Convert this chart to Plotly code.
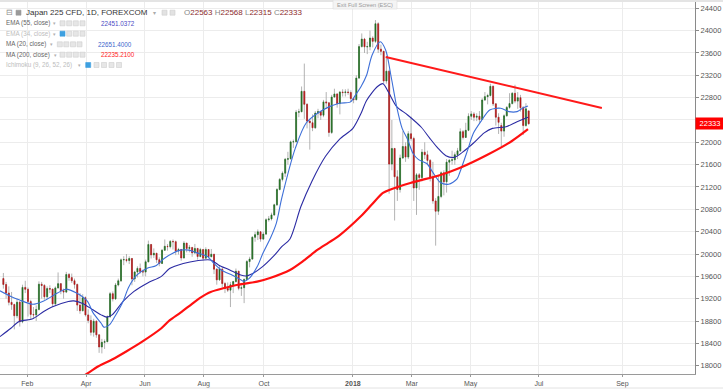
import pandas as pd
import plotly.graph_objects as go

# ---------------- data ----------------
open_ = [19560,19454,19301,19134,19095,18894,19137,18787,19402,19368,19148,18918,18910,19007,19459,19437,19234,19381,19371,19107,
         19393,19469,19344,19318,19633,19577,19521,19455,19085,18985,19217,18909,18810,18597,18797,18552,18335,18418,18430,18875,
         19289,19196,19445,19520,19895,19900,19883,19919,19553,19678,19742,19686,19677,19860,20170,19984,20013,19898,19831,20067,
         20138,20132,20225,20220,20055,20081,19929,20195,20099,20118,20020,20099,19955,20079,19925,20080,19952,19996,19729,19537,
         19729,19470,19383,19353,19449,19506,19691,19385,19396,19545,19865,19909,20299,20347,20397,20267,20356,20614,20628,20700,
         20881,21155,21336,21448,21696,21707,22008,22011,22539,22548,22913,22681,22380,22351,22261,22523,22550,22486,22724,22707,
         22177,22811,22866,22694,22901,22891,22902,22892,22783,22764,23150,23714,23849,23710,23714,23868,23808,24124,23669,23629,
         23098,23274,21610,21890,21383,21154,21720,21925,21736,22153,22068,21182,21418,21368,21824,21777,21676,21380,20950,20766,
         21031,21454,21292,21645,21678,21687,21778,21847,22191,22088,22215,22467,22508,22450,22467,22408,22758,22818,22838,23002,
         22689,22450,22300,22201,22475,22625,22694,22878,22738,22800,22620,22300,22563]
high = [19660,19500,19420,19320,19110,19200,19160,19450,19520,19400,19180,19050,19080,19510,19500,19460,19420,19440,19380,19420,
        19670,19480,19380,19680,19660,19650,19560,19470,19300,19280,19240,19010,18900,18840,18810,18560,18480,18470,18900,19320,
        19330,19480,19560,19920,19960,20000,19960,19930,19700,19780,19830,19720,19900,20240,20180,20100,20020,19940,20090,20260,
        20180,20250,20260,20240,20110,20090,20230,20200,20160,20120,20180,20110,20110,20090,20120,20090,20090,20000,19740,19800,
        19760,19500,19490,19500,19520,19740,19700,19440,19560,19890,19950,20320,20400,20440,20410,20400,20640,20680,20740,20900,
        21180,21360,21480,21720,21830,22030,22050,22580,22600,23000,23410,22700,22420,22500,22560,22600,22560,22760,22900,22720,
        22850,22960,22880,22920,22950,22950,22960,22930,22800,23200,23760,23950,23870,23800,24000,23900,24190,24150,23750,23640,
        23520,23300,22400,21900,21500,21780,22200,22000,22200,22460,22100,21450,21450,21880,22000,21850,21700,21650,21000,21400,
        21480,21500,21700,21700,21850,21820,21900,22250,22220,22350,22520,22560,22540,22520,22560,22790,22900,22870,23050,23020,
        22700,22520,22350,22500,22650,22880,22900,23030,22900,22850,22650,22700,22568]
low = [19380,19200,19080,19000,18650,18850,18700,18760,19300,18880,18830,18850,18800,18990,19200,19180,19200,19300,19050,19070,
       19380,19280,19200,19300,19520,19480,19380,18980,18930,18970,18880,18760,18540,18520,18500,18230,18220,18300,18420,18860,
       19150,19180,19420,19500,19800,19850,19820,19440,19500,19580,19650,19600,19600,19850,19920,19930,19840,19780,19820,20060,
       20060,20100,20080,19980,19990,19880,19920,20030,20030,19950,20000,19900,19940,19880,19910,19920,19940,19640,19450,19520,
       19400,19300,19320,19050,19300,19490,19350,19250,19120,19530,19760,19900,20220,20250,20220,20250,20340,20580,20600,20680,
       20860,21140,21300,21380,21600,21690,21900,22000,22450,22540,22420,22250,21870,22200,22240,22430,22400,22450,22600,22100,
       22150,22800,22620,22500,22820,22820,22850,22730,22700,22750,23140,23700,23600,23580,23650,23700,23780,23600,23560,23050,
       23050,21080,21500,20600,20950,21100,21700,21650,21700,22030,20950,20700,21150,21300,21700,21600,21300,20900,20150,20700,
       21000,21050,21100,21400,21600,21600,21700,21830,22050,22080,22200,22400,22380,22380,22350,22400,22740,22680,22820,22650,
       22300,22150,21930,22100,22460,22600,22680,22700,22600,22550,22130,22280,22315]
close = [19454,19301,19134,19095,18894,19137,18787,19402,19368,19148,18918,18910,19007,19459,19437,19234,19381,19371,19107,19393,
         19469,19344,19318,19633,19577,19521,19455,19085,18985,19217,18909,18810,18597,18797,18552,18335,18418,18430,18875,19289,
         19196,19445,19520,19895,19900,19883,19919,19553,19678,19742,19686,19677,19860,20170,19984,20013,19898,19831,20067,20138,
         20132,20225,20220,20055,20081,19929,20195,20099,20118,20020,20099,19955,20079,19925,20080,19952,19996,19729,19537,19729,
         19470,19383,19353,19449,19506,19691,19385,19396,19545,19865,19909,20299,20347,20397,20267,20356,20614,20628,20700,20881,
         21155,21336,21448,21696,21707,22008,22011,22539,22548,22913,22681,22380,22351,22261,22523,22550,22486,22724,22707,22177,
         22811,22866,22694,22901,22891,22902,22892,22783,22764,23150,23714,23849,23710,23714,23868,23808,24124,23669,23629,23098,
         23274,21610,21890,21383,21154,21720,21925,21736,22153,22068,21182,21418,21368,21824,21777,21676,21380,20950,20766,21031,
         21454,21292,21645,21678,21687,21778,21847,22191,22088,22215,22467,22508,22450,22467,22408,22758,22818,22838,23002,22689,
         22450,22358,22201,22475,22625,22694,22878,22738,22800,22620,22300,22600,22333]

# one candle every second trading day, Jan 2017 .. end of Jun 2018 (bars centred at midday)
candle_dates = (pd.bdate_range("2017-01-06", "2018-06-28")[::2][:len(close)] + pd.Timedelta(hours=12))

ema55_dates = ["2017-01-04","2017-01-16","2017-01-24","2017-02-07","2017-02-17","2017-02-27","2017-03-15","2017-03-21",
               "2017-03-29","2017-04-10","2017-04-18","2017-04-24","2017-04-28","2017-05-10","2017-05-22","2017-06-05",
               "2017-06-19","2017-06-27","2017-07-11","2017-07-25","2017-08-08","2017-08-16","2017-08-28","2017-09-07",
               "2017-09-13","2017-09-19","2017-09-29","2017-10-11","2017-10-19","2017-10-27","2017-11-08","2017-11-20",
               "2017-12-04","2017-12-18","2018-01-01","2018-01-09","2018-01-15","2018-01-25","2018-01-31","2018-02-06",
               "2018-02-14","2018-02-26","2018-03-12","2018-03-20","2018-03-28","2018-04-05","2018-04-13","2018-04-23",
               "2018-05-03","2018-05-15","2018-05-23","2018-06-06","2018-06-18","2018-06-28"]
ema55_vals = [18520,18670,18790,18840,18970,19050,19150,19160,19120,19000,18910,18870,18910,19150,19330,19480,
              19600,19740,19830,19880,19893,19800,19714,19624,19606,19640,19773,19960,20130,20270,20850,21300,
              21750,22050,22250,22520,22750,23000,23050,22900,22640,22490,22270,22080,21900,21760,21730,21820,
              21983,22170,22250,22280,22370,22451]

ma20_dates = ["2017-01-04","2017-01-16","2017-01-24","2017-02-07","2017-02-17","2017-03-03","2017-03-13","2017-03-23",
              "2017-04-04","2017-04-10","2017-04-18","2017-04-20","2017-04-26","2017-05-02","2017-05-10","2017-05-16",
              "2017-05-24","2017-06-05","2017-06-13","2017-06-21","2017-06-29","2017-07-07","2017-07-17","2017-07-25",
              "2017-08-04","2017-08-10","2017-08-18","2017-08-30","2017-09-07","2017-09-11","2017-09-15","2017-09-25",
              "2017-09-29","2017-10-09","2017-10-13","2017-10-19","2017-11-02","2017-11-14","2017-11-30","2017-12-18",
              "2017-12-28","2018-01-03","2018-01-09","2018-01-15","2018-01-19","2018-01-29","2018-02-02","2018-02-08",
              "2018-02-14","2018-02-20","2018-02-26","2018-03-02","2018-03-08","2018-03-16","2018-03-22","2018-03-30",
              "2018-04-09","2018-04-17","2018-04-19","2018-04-27","2018-05-03","2018-05-11","2018-05-21","2018-05-31",
              "2018-06-08","2018-06-18","2018-06-22","2018-06-28"]
ma20_vals = [19340,19240,19180,19100,19160,19300,19370,19300,19150,18950,18760,18690,18730,18880,19150,19400,
             19620,19750,19790,19920,20010,20070,20070,20020,19950,19840,19710,19620,19540,19510,19560,19770,
             20000,20300,20550,21000,21900,22350,22580,22700,22720,22850,23000,23200,23560,23800,23650,23170,
             22640,22250,22050,21800,21690,21620,21480,21280,21250,21340,21450,21870,22160,22390,22580,22610,
             22550,22550,22610,22651]

ma200_dates = ["2017-03-31","2017-04-04","2017-04-14","2017-04-28","2017-05-12","2017-05-30","2017-06-19","2017-06-27",
               "2017-07-07","2017-07-19","2017-07-27","2017-08-08","2017-08-22","2017-09-05","2017-09-25","2017-10-09",
               "2017-10-27","2017-11-10","2017-11-24","2017-12-06","2017-12-18","2018-01-09","2018-01-19","2018-01-31",
               "2018-02-08","2018-02-28","2018-03-30","2018-04-19","2018-05-17","2018-06-12","2018-06-28"]
ma200_vals = [17830,17862,17990,18110,18250,18430,18670,18810,18950,19100,19210,19320,19390,19450,19505,19575,
              19714,19880,20072,20200,20330,20680,20890,21093,21160,21272,21415,21540,21773,22020,22235]

trend_dates = ["2018-02-02", "2018-08-21"]
trend_vals = [23528, 22615]

x_tick_dates = ["2017-02-01","2017-04-03","2017-06-01","2017-08-01","2017-10-02","2018-01-01",
                "2018-03-01","2018-05-01","2018-07-06","2018-09-05"]
x_tick_labels = ["Feb","Apr","Jun","Aug","Oct","<b>2018</b>","Mar","May","Jul","Sep"]
y_tick_vals = [18000,18400,18800,19200,19600,20000,20400,20800,21200,21600,22000,22400,22800,23200,23600,24000,24400]
y_tick_labels = ["18000","18400","18800","19200","19600","20000","20400","20800","21200","21600","22000",
                 "22400","22800","23200","23600","24000","24400"]

last_price = 22333

# ---------------- figure ----------------
body_hi = [max(o, c) for o, c in zip(open_, close)]
body_lo = [min(o, c) for o, c in zip(open_, close)]

fig = go.Figure()
# wicks (grey)
fig.add_trace(go.Candlestick(
    x=candle_dates, open=open_, high=high, low=low, close=close,
    increasing=dict(line=dict(color="#a0a0a0", width=0.8), fillcolor="#a0a0a0"),
    decreasing=dict(line=dict(color="#a0a0a0", width=0.8), fillcolor="#a0a0a0"),
    whiskerwidth=0, hoverinfo="skip"))
# bodies
fig.add_trace(go.Candlestick(
    x=candle_dates, open=open_, high=body_hi, low=body_lo, close=close,
    increasing=dict(line=dict(color="#1f6f1f", width=0.5), fillcolor="#1f6f1f"),
    decreasing=dict(line=dict(color="#b81414", width=0.5), fillcolor="#b81414"),
    whiskerwidth=0, hoverinfo="skip"))

fig.add_trace(go.Scatter(x=ema55_dates, y=ema55_vals, mode="lines", hoverinfo="skip",
                         line=dict(color="#2b2ba3", width=1.1, shape="spline", smoothing=0.8)))
fig.add_trace(go.Scatter(x=ma20_dates, y=ma20_vals, mode="lines", hoverinfo="skip",
                         line=dict(color="#3d6fd8", width=1.1, shape="spline", smoothing=0.8)))
fig.add_trace(go.Scatter(x=ma200_dates, y=ma200_vals, mode="lines", hoverinfo="skip",
                         line=dict(color="#ff1010", width=2.2, shape="spline", smoothing=0.8)))
fig.add_trace(go.Scatter(x=trend_dates, y=trend_vals, mode="lines", hoverinfo="skip",
                         line=dict(color="#ff1a1a", width=2)))

weekend = [d.strftime("%Y-%m-%d") for d in pd.date_range("2016-12-31", "2018-06-27") if d.weekday() >= 5]

FONT = "Liberation Sans, Arial, sans-serif"
PW, PT, PB = 695.0, 2.0, 374.0
def px(x):
    return x / PW
def py(y):
    return (PB - y) / (PB - PT)

annotations = []
def txt(x, y, s, size, color, anchor="left"):
    annotations.append(dict(xref="paper", yref="paper", x=px(x), y=py(y), text=s, showarrow=False,
                            xanchor=anchor, yanchor="middle", font=dict(family=FONT, size=size, color=color)))

shapes = []
def box(x, y, w, h, fill, line="#cfcfcf"):
    shapes.append(dict(type="rect", xref="paper", yref="paper", x0=px(x), x1=px(x + w),
                       y0=py(y + h), y1=py(y), fillcolor=fill, line=dict(color=line, width=0.6), layer="above"))

# frame lines of the widget
shapes.append(dict(type="rect", xref="paper", yref="paper", x0=0, x1=px(723), y0=py(2), y1=py(0),
                   fillcolor="#e4e4e4", line=dict(width=0), layer="above"))
shapes.append(dict(type="line", xref="paper", yref="paper", x0=0, x1=px(723), y0=py(388), y1=py(388),
                   line=dict(color="#e2e2e2", width=1)))

# legend block
txt(4, 12.7, "⊟", 8, "#8a8a8a")
box(16, 10.2, 5, 5, "#9a9a9a", "#9a9a9a")
txt(24, 12.7, "Japan 225 CFD, 1D, FOREXCOM", 8, "#333333")
txt(151, 12.7, "▾", 6, "#aaaaaa")
box(162, 10.2, 5, 5, "#e2e2e2"); box(170, 10.2, 5, 5, "#e2e2e2")
ohlc = ("<span style='color:#888'>O</span>22563 <span style='color:#888'>H</span>22568 "
        "<span style='color:#888'>L</span>22315 <span style='color:#888'>C</span>22333")
txt(182, 12.7, ohlc, 8, "#8b2b2b")

rows = [
    (23.3, "EMA (55, close)", "#666666", 51, [60, 66.7, 73.3, 80], None, "22451.0372", "#4a4ac4", 99),
    (33.7, "EMA (34, close)", "#bdbdbd", 51, [60, 66.7, 73.3, 80], 0, None, None, 0),
    (44.3, "MA (20, close)", "#666666", 48, [57.3, 63.8, 70.5, 77], None, "22651.4000", "#3d66cc", 96),
    (54.7, "MA (200, close)", "#666666", 52, [60, 66.7, 73.3, 80], None, "22235.2100", "#ff2020", 99),
    (65.0, "Ichimoku (9, 26, 52, 26)", "#bdbdbd", 76, [85.7, 94, 101.5, 109, 116.5], 0, None, None, 0),
]
for y, label, col, carx, icons, blue, val, vcol, vx in rows:
    txt(4, y, label, 6.3, col)
    txt(carx, y, "▾", 5, "#b0b0b0")
    for j, ix in enumerate(icons):
        if blue is not None and j == blue:
            box(ix, y - 2.5, 5, 5, "#3ea0e0", "#3ea0e0")
        else:
            box(ix, y - 2.5, 5, 5, "#e6e6e6")
    if val:
        txt(vx, y, val, 6.3, vcol)

# "Exit Full Screen" hint
shapes.append(dict(type="rect", xref="paper", yref="paper", x0=px(333), x1=px(397), y0=py(9), y1=py(0),
                   fillcolor="#f4f4f4", line=dict(color="#dddddd", width=0.6), layer="above"))
txt(365, 4.6, "Exit Full Screen (ESC)", 5.6, "#9a9a9a", anchor="center")

# last price label
annotations.append(dict(xref="paper", yref="y", x=1.0, y=last_price, text=f"{last_price}", showarrow=False,
                        xanchor="left", yanchor="middle", bgcolor="#ff0000", borderpad=0, width=28, height=11,
                        font=dict(family=FONT, size=7.5, color="white")))

fig.update_layout(
    width=723, height=391,
    margin=dict(l=0, r=28, t=2, b=17),
    paper_bgcolor="white", plot_bgcolor="white",
    showlegend=False, boxgap=0.5, hovermode=False,
    annotations=annotations, shapes=shapes,
    xaxis=dict(type="date", range=["2017-01-04 01:03", "2018-10-28 02:00"],
               rangebreaks=[dict(values=weekend, dvalue=86400000)],
               rangeslider=dict(visible=False),
               tickmode="array", tickvals=x_tick_dates, ticktext=x_tick_labels,
               showgrid=True, gridcolor="#ececec", gridwidth=1,
               showline=True, linecolor="#9a9a9a", linewidth=1.2,
               ticks="outside", ticklen=2, tickcolor="#9a9a9a",
               tickfont=dict(family=FONT, size=7, color="#555555"), zeroline=False, fixedrange=True),
    yaxis=dict(side="right", range=[17851, 24513], tickmode="array",
               tickvals=y_tick_vals, ticktext=y_tick_labels,
               showgrid=True, gridcolor="#ececec", gridwidth=1,
               showline=True, linecolor="#8a8a8a", linewidth=1,
               ticks="outside", ticklen=3, tickcolor="#8a8a8a",
               tickfont=dict(family=FONT, size=7.5, color="#555555"), zeroline=False, fixedrange=True),
)

fig.write_html("out.html", config={"displayModeBar": False, "staticPlot": True},
               post_script="document.body.style.margin='0';document.body.style.padding='0';")
